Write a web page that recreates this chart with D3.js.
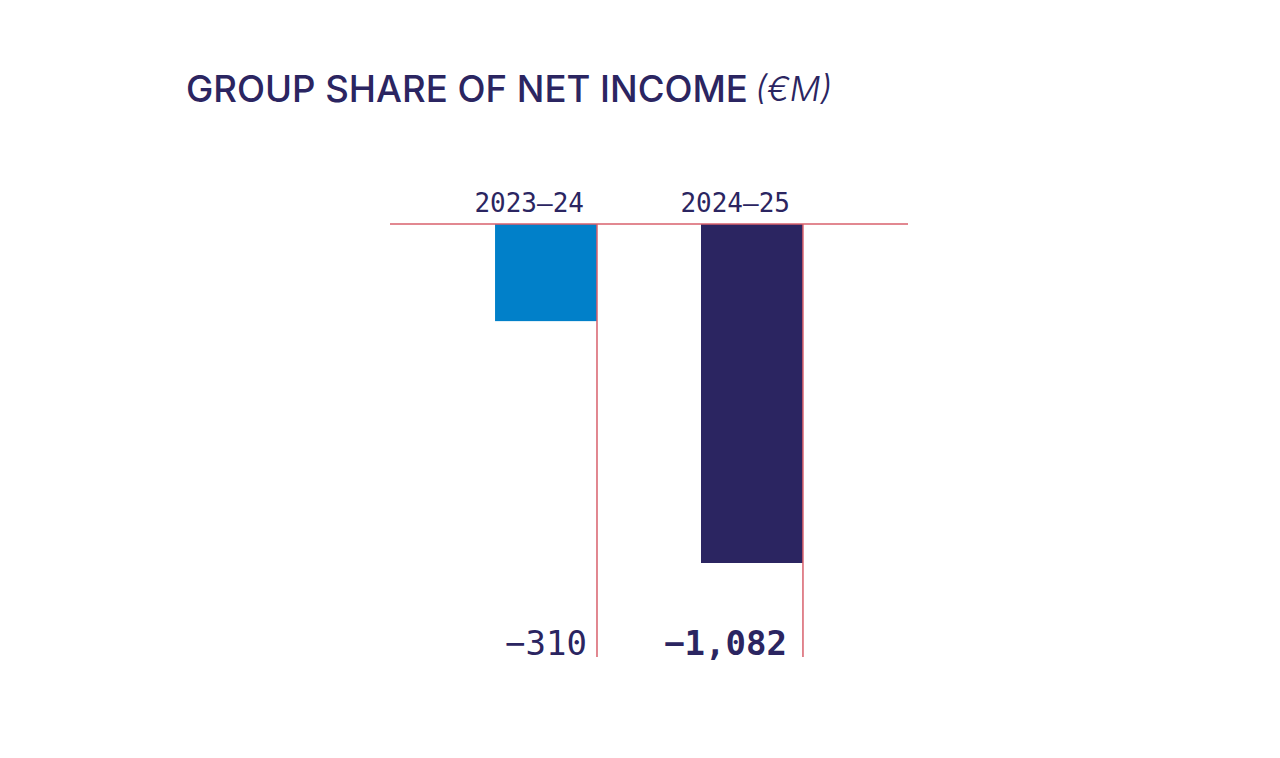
<!DOCTYPE html>
<html><head><meta charset="utf-8">
<script src="https://cdn.jsdelivr.net/npm/d3@7"></script>
<style>body{margin:0;background:#fff}svg{display:block}</style>
</head><body>
<script>
const categories = ["2023–24", "2024–25"];
const values = [-310, -1082];
const valueLabels = ["−310", "−1,082"];
const barColors = ["#0180c9", "#2b2561"];
const title = "GROUP SHARE OF NET INCOME";
const unit = "(€M)";

const W = 1280, H = 758;
const ink = "#2b2561", red = "#d8606c";
const svg = d3.select("body").append("svg").attr("width", W).attr("height", H);

const x = d3.scaleBand().domain(categories).range([390, 908]).paddingInner(0.505).paddingOuter(0.51);
const y = d3.scaleLinear().domain([0, -1082]).range([224, 563]);

// title
const t = svg.append("text").attr("x", 186).attr("y", 102)
  .attr("font-family", "Inter, 'Open Sans', sans-serif").attr("font-weight", 500)
  .attr("font-size", 36).attr("fill", ink).text(title);
let len = t.node().getComputedTextLength();
t.attr("font-size", 36 * 562 / len);
svg.append("text").attr("x", 755).attr("y", 101)
  .attr("font-family", "Inter, 'Open Sans', sans-serif").attr("font-weight", 300)
  .attr("font-style", "italic").attr("font-size", 34).attr("fill", ink).text(unit);

// bars
svg.selectAll("rect.bar").data(categories).join("rect")
  .attr("x", d => x(d)).attr("width", x.bandwidth())
  .attr("y", y(0)).attr("height", (d, i) => y(values[i]) - y(0))
  .attr("fill", (d, i) => barColors[i]);

// red baseline
svg.append("line").attr("x1", 390).attr("x2", 908).attr("y1", y(0)).attr("y2", y(0))
  .attr("stroke", red).attr("stroke-width", 1.5);
// red verticals at bar right edges
svg.selectAll("line.v").data(categories).join("line")
  .attr("x1", d => x(d) + x.bandwidth()).attr("x2", d => x(d) + x.bandwidth())
  .attr("y1", y(0)).attr("y2", 657).attr("stroke", red).attr("stroke-width", 1.5);

// category labels
svg.selectAll("text.cat").data(categories).join("text")
  .attr("x", d => x(d) + x.bandwidth() - 13).attr("y", 212)
  .attr("text-anchor", "end").attr("font-family", "'DejaVu Sans Mono', monospace")
  .attr("font-size", 26).attr("fill", ink).text(d => d);

// value labels
svg.selectAll("text.val").data(categories).join("text")
  .attr("x", (d, i) => x(d) + x.bandwidth() - (i === 1 ? 16 : 10)).attr("y", 655)
  .attr("text-anchor", "end").attr("font-family", "'DejaVu Sans Mono', monospace")
  .attr("font-weight", (d, i) => i === 1 ? "bold" : "normal")
  .attr("font-size", 34).attr("fill", ink).text((d, i) => valueLabels[i]);
</script>
</body></html>
